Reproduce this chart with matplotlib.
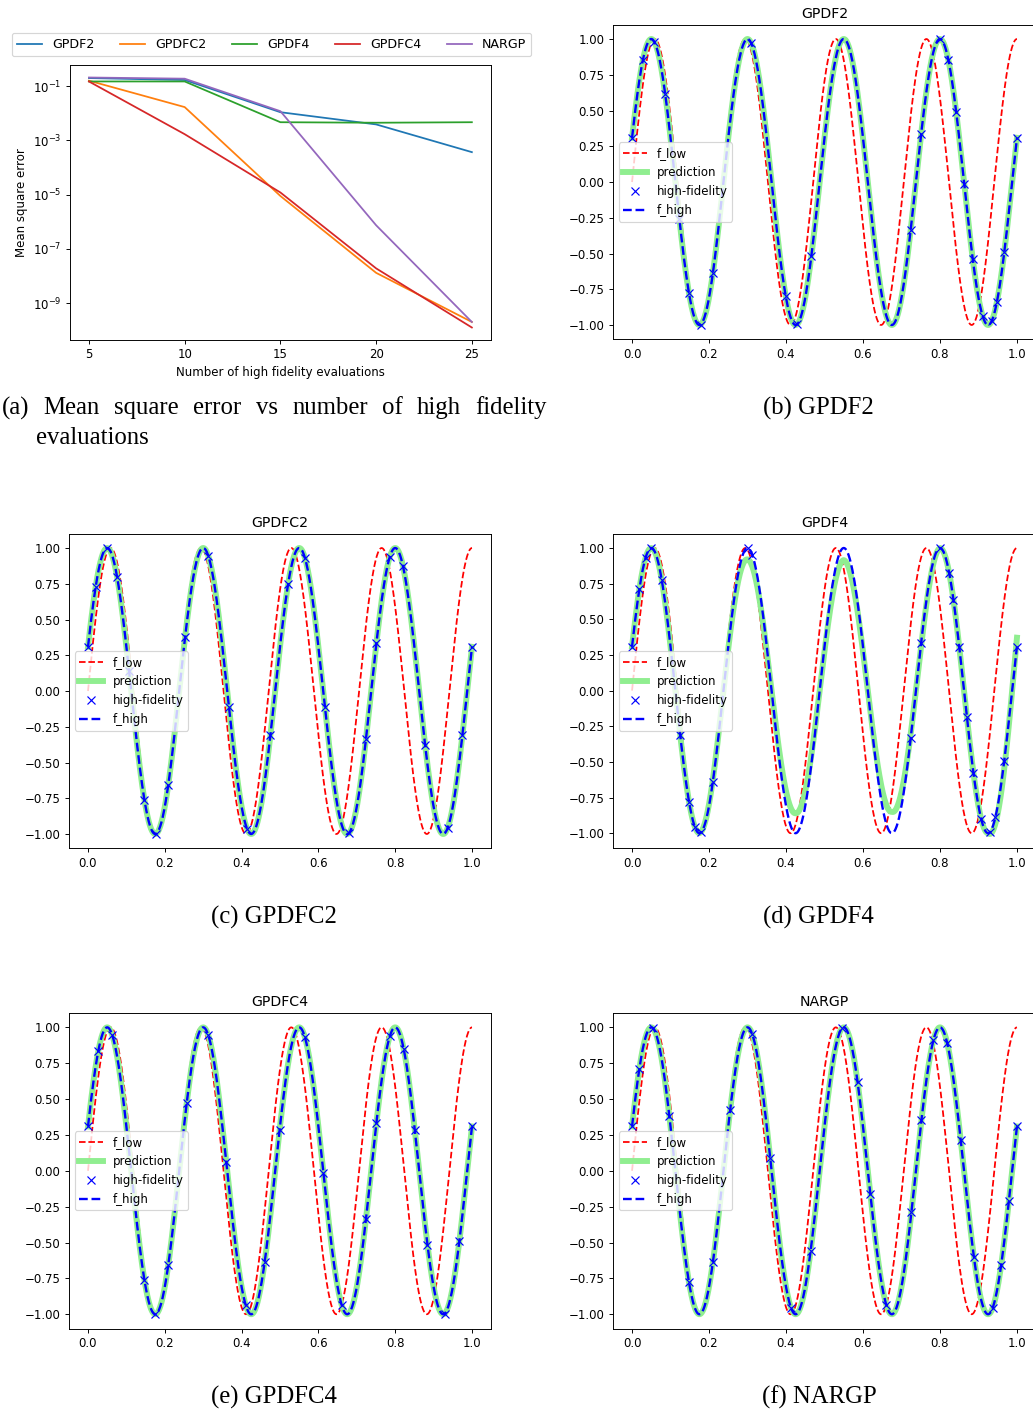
import numpy as np
import matplotlib
matplotlib.use("Agg")
import matplotlib.pyplot as plt
from matplotlib.ticker import FixedLocator, NullLocator

# ---- Mean square error vs. number of high-fidelity evaluations ----
n_high = [5, 10, 15, 20, 25]
mse_gpdf2 = [2.0e-1, 1.7e-1, 1.1e-2, 3.9e-3, 3.7e-4]
mse_gpdfc2 = [1.6e-1, 1.7e-2, 8.9e-6, 1.3e-8, 2.0e-10]
mse_gpdf4 = [1.5e-1, 1.5e-1, 4.7e-3, 4.5e-3, 4.7e-3]
mse_gpdfc4 = [1.5e-1, 1.7e-3, 1.2e-5, 1.9e-8, 1.25e-10]
mse_nargp = [2.1e-1, 1.9e-1, 1.2e-2, 7.4e-7, 2.0e-10]
method_names = ["GPDF2", "GPDFC2", "GPDF4", "GPDFC4", "NARGP"]

# ---- low / high fidelity test functions ----
LOW_FREQ = 8.5 * np.pi
HIGH_FREQ = 8.0 * np.pi
HIGH_PHASE = np.pi / 10


def f_low(t):
    return np.sin(LOW_FREQ * t)


def f_high(t):
    return np.sin(HIGH_FREQ * t + HIGH_PHASE)


# high-fidelity sample locations used by each method
x_hf_gpdf2 = [0.0, 0.028, 0.058, 0.086, 0.123, 0.148, 0.178, 0.21, 0.31,
              0.399, 0.429, 0.466, 0.724, 0.751, 0.80, 0.822, 0.842, 0.863,
              0.885, 0.911, 0.935, 0.948, 0.967, 1.0]
x_hf_gpdfc2 = [0.0, 0.02, 0.049, 0.076, 0.107, 0.147, 0.177, 0.209, 0.253,
               0.313, 0.367, 0.414, 0.475, 0.521, 0.565, 0.617, 0.68, 0.724,
               0.751, 0.786, 0.82, 0.878, 0.937, 0.975, 1.0]
x_hf_gpdf4 = [0.0, 0.019, 0.035, 0.049, 0.077, 0.125, 0.148, 0.163, 0.18,
              0.21, 0.301, 0.3125, 0.724, 0.751, 0.80, 0.824, 0.835, 0.85,
              0.87, 0.887, 0.907, 0.929, 0.944, 0.967, 1.0]
x_hf_gpdfc4 = [0.0, 0.027, 0.063, 0.147, 0.174, 0.209, 0.257, 0.313,
               0.36, 0.411, 0.46, 0.499, 0.565, 0.613, 0.661, 0.724, 0.751,
               0.786, 0.822, 0.851, 0.884, 0.929, 0.967, 1.0]
x_hf_nargp = [0.0, 0.019, 0.054, 0.097, 0.148, 0.21, 0.255, 0.3125, 0.359,
              0.413, 0.464, 0.546, 0.586, 0.619, 0.661, 0.726, 0.752, 0.783,
              0.819, 0.854, 0.888, 0.937, 0.959, 0.979, 1.0]

# GPDF4 prediction: relative amplitude at each extremum of f_high
gpdf4_extrema_x = [0.0, 0.05, 0.175, 0.30, 0.425, 0.55, 0.675, 0.80, 0.925, 1.0]
gpdf4_extrema_amp = [1.0, 1.0, 1.0, 0.92, 0.86, 0.915, 0.85, 1.0, 1.0, 1.2]

W, H = 1033, 1413
DPI = 85
fig = plt.figure(figsize=(W / DPI, H / DPI), dpi=DPI)


def px_axes(left, top, right, bottom):
    return fig.add_axes([left / W, 1 - bottom / H, (right - left) / W, (bottom - top) / H])


# ---- panel (a) ----
ax = px_axes(69.8, 65, 491, 340)
for vals, name in zip([mse_gpdf2, mse_gpdfc2, mse_gpdf4, mse_gpdfc4, mse_nargp], method_names):
    ax.plot(n_high, vals, label=name)
ax.set_yscale("log")
ax.yaxis.set_major_locator(FixedLocator([1e-9, 1e-7, 1e-5, 1e-3, 1e-1]))
ax.yaxis.set_minor_locator(NullLocator())
ax.set_xticks(n_high)
ax.set_xlabel("Number of high fidelity evaluations")
ax.set_ylabel("Mean square error")
ax.legend(ncol=5, loc="center", bbox_to_anchor=(271.5 / W, 1 - 44.5 / H),
          bbox_transform=fig.transFigure, fontsize=10.7)

# ---- function panels ----
xs = np.linspace(0, 1, 1000)


def draw_panel(box, title, x_hf, pred):
    a = px_axes(*box)
    x_hf = np.asarray(x_hf)
    a.plot(xs, f_low(xs), "r--", label="f_low")
    a.plot(xs, pred, color="lightgreen", lw=5, label="prediction")
    a.plot(x_hf, f_high(x_hf), "bx", label="high-fidelity")
    a.plot(xs, f_high(xs), "b--", lw=2, label="f_high")
    a.set_title(title)
    a.legend(loc="center left")
    return a


exact = f_high(xs)
pred_gpdf4 = f_high(xs) * np.interp(xs, gpdf4_extrema_x, gpdf4_extrema_amp)

LEFT_COL = (68.8, 491.2)
RIGHT_COL = (612.8, 1036.2)
ROWS = [(24.7, 339.3), (533.7, 848.3), (1013.0, 1328.6)]

draw_panel((RIGHT_COL[0], ROWS[0][0], RIGHT_COL[1], ROWS[0][1]), "GPDF2", x_hf_gpdf2, exact)
draw_panel((LEFT_COL[0], ROWS[1][0], LEFT_COL[1], ROWS[1][1]), "GPDFC2", x_hf_gpdfc2, exact)
draw_panel((RIGHT_COL[0], ROWS[1][0], RIGHT_COL[1], ROWS[1][1]), "GPDF4", x_hf_gpdf4, pred_gpdf4)
draw_panel((LEFT_COL[0], ROWS[2][0], LEFT_COL[1], ROWS[2][1]), "GPDFC4", x_hf_gpdfc4, exact)
draw_panel((RIGHT_COL[0], ROWS[2][0], RIGHT_COL[1], ROWS[2][1]), "NARGP", x_hf_nargp, exact)

# ---- sub-figure captions ----
cap = dict(family="Liberation Serif", fontsize=21, va="center")


def fig_text(xp, yp, s, ha):
    return fig.text(xp / W, 1 - yp / H, s, ha=ha, **cap)


def justified_line(x_start, x_end, yp, line):
    """Spread the words of a caption line evenly between two pixel positions."""
    renderer = fig.canvas.get_renderer()
    words = line.split()
    texts = [fig_text(0, yp, w, "left") for w in words]
    widths = [t.get_window_extent(renderer).width for t in texts]
    gap = (x_end - x_start - sum(widths)) / (len(words) - 1)
    xp = x_start
    for t, wd in zip(texts, widths):
        t.set_x(xp / W)
        xp += wd + gap


justified_line(2, 547, 408, "(a) Mean square error vs number of high fidelity")
fig_text(36, 438, "evaluations", "left")
fig_text(818, 408, "(b) GPDF2", "center")
fig_text(273.5, 917, "(c) GPDFC2", "center")
fig_text(818, 917, "(d) GPDF4", "center")
fig_text(273.5, 1397, "(e) GPDFC4", "center")
fig_text(819, 1397, "(f) NARGP", "center")

fig.savefig("out.png", dpi=DPI)
